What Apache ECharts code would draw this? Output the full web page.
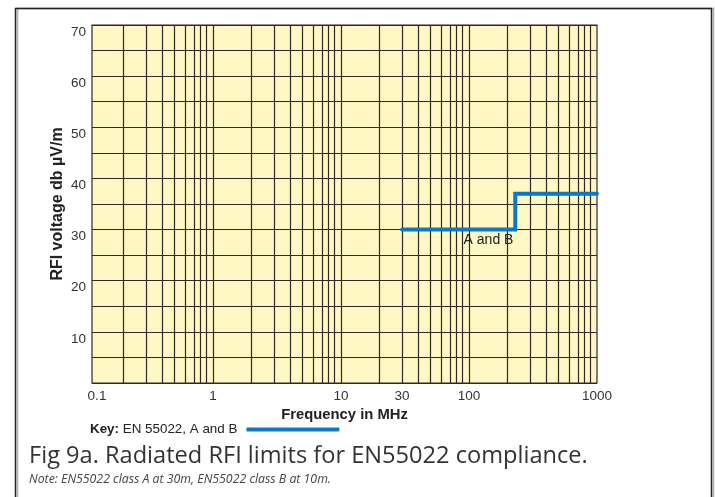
<!DOCTYPE html>
<html>
<head>
<meta charset="utf-8">
<script src="https://cdn.jsdelivr.net/npm/echarts@6/dist/echarts.min.js"></script>
<style>
html,body{margin:0;padding:0;background:#fff;}
#chart{width:715px;height:497px;}
</style>
</head>
<body>
<div id="chart"></div>
<script>
// ---- data ----
const limitFreqMHz = [30, 230, 230, 1000];
const limitDb = [30, 30, 37, 37];
const seriesName = 'EN 55022, A and B';
const xTickFreqs = [0.1, 1, 10, 30, 100, 1000];
const xTickLabels = ['0.1', '1', '10', '30', '100', '1000'];
const xGridFreqs = [0.2,0.3,0.4,0.5,0.6,0.7,0.8,0.9,1,2,3,4,5,6,7,8,9,10,20,30,40,50,60,70,80,90,100,200,300,400,500,600,700,800,900];
const yTickLabels = [10, 20, 30, 40, 50, 60, 70];
const annotationText = 'A and B';
const annotationAt = [142, 30];
const caption = 'Fig 9a. Radiated RFI limits for EN55022 compliance.';
const note = 'Note: EN55022 class A at 30m, EN55022 class B at 10m.';

const lg = v => Math.log10(v);
const X_MIN = -0.945, X_MAX = 3;
const labelPos = xTickFreqs.map(f => Math.max(lg(f), X_MIN));
const FONT = '"Liberation Sans", Arial, Helvetica, sans-serif';
const GRID_COLOR = '#2e2a22';

const chart = echarts.init(document.getElementById('chart'));
chart.setOption({
  animation: false,
  textStyle: { fontFamily: FONT },
  grid: {
    left: 92, right: 118, top: 25, bottom: 114,
    show: true, backgroundColor: '#fff8c4', borderColor: GRID_COLOR, borderWidth: 1.2
  },
  legend: {
    data: [seriesName],
    left: 85, top: 418,
    align: 'right',
    icon: 'roundRect',
    itemWidth: 93, itemHeight: 4,
    formatter: n => '{k|Key:} ' + n,
    textStyle: {
      fontFamily: FONT, fontSize: 13.4, color: '#222', padding: [0, 4, 0, 0],
      rich: { k: { fontWeight: 'bold', fontSize: 13.4, color: '#222', fontFamily: FONT } }
    }
  },
  xAxis: {
    type: 'value', min: X_MIN, max: X_MAX,
    name: 'Frequency in MHz', nameLocation: 'middle', nameGap: 16,
    nameTextStyle: { fontWeight: 'bold', fontSize: 14.8, color: '#222', fontFamily: FONT },
    axisLine: { show: false }, axisTick: { show: false }, splitLine: { show: false },
    axisLabel: {
      customValues: labelPos,
      margin: 6, fontSize: 13.5, color: '#333',
      formatter: v => {
        const i = labelPos.findIndex(p => Math.abs(p - v) < 1e-6);
        if (i === 0) return '{p|' + xTickLabels[0] + '}';
        return i >= 0 ? xTickLabels[i] : '';
      },
      rich: { p: { padding: [0, 0, 0, 10], fontSize: 13.5, color: '#333', fontFamily: FONT } }
    }
  },
  yAxis: {
    type: 'value', min: 0, max: 70, interval: 5,
    name: 'RFI voltage db \u00b5V/m', nameLocation: 'middle', nameGap: 26,
    nameMoveOverlap: false,
    nameTextStyle: { fontWeight: 'bold', fontSize: 16, color: '#222', fontFamily: FONT },
    axisLine: { show: false }, axisTick: { show: false },
    splitLine: { show: true, lineStyle: { color: GRID_COLOR, width: 1.2 } },
    axisLabel: {
      fontSize: 13.5, color: '#333', margin: 6, verticalAlign: 'top',
      formatter: v => yTickLabels.includes(v) ? String(v) : ''
    }
  },
  series: [
    {
      name: 'grid', type: 'line', data: [], silent: true, z: 1,
      markLine: {
        silent: true, symbol: ['none', 'none'], animation: false,
        label: { show: false },
        lineStyle: { color: GRID_COLOR, width: 1.2, type: 'solid' },
        emphasis: { disabled: true },
        data: xGridFreqs.map(f => ({ xAxis: lg(f) }))
      }
    },
    {
      name: seriesName, type: 'line', z: 5,
      data: limitFreqMHz.map((f, i) => [lg(f), limitDb[i]]),
      showSymbol: false, symbol: 'none',
      lineStyle: { color: '#0a78c4', width: 4, cap: 'round', join: 'miter' },
      itemStyle: { color: '#0a78c4' },
      markPoint: {
        symbol: 'circle', symbolSize: 1, itemStyle: { color: 'rgba(0,0,0,0)' },
        label: { show: true, position: 'bottom', distance: 3, formatter: annotationText,
                 fontSize: 14, color: '#222', fontFamily: FONT },
        data: [{ coord: [lg(annotationAt[0]), annotationAt[1]] }]
      }
    }
  ],
  graphic: [
    { type: 'rect', left: 13, top: 6, shape: { width: 696, height: 560 },
      style: { fill: 'none', stroke: '#222', lineWidth: 1.5, shadowColor: 'rgba(0,0,0,0.35)', shadowOffsetX: 2, shadowBlur: 1 }, z: -1, silent: true },
    { type: 'text', left: 29, top: 444,
      style: { text: caption, font: '23.6px "Open Sans", sans-serif', fill: '#333' } },
    { type: 'text', left: 29, top: 473,
      style: { text: note, font: 'italic 12.3px "Open Sans", sans-serif', fill: '#444' } }
  ]
});
</script>
</body>
</html>
